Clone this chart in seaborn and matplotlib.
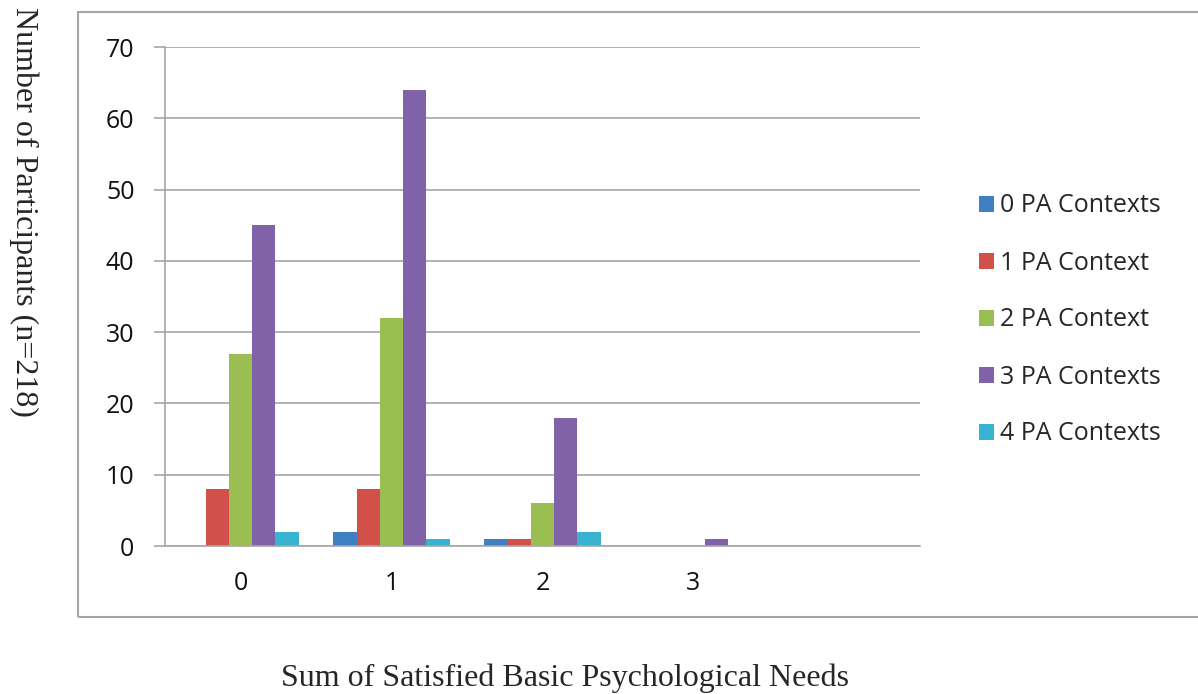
import matplotlib
matplotlib.use("Agg")
import matplotlib.pyplot as plt
from matplotlib.patches import Rectangle
import seaborn as sns
import pandas as pd

# Participant counts by number of satisfied needs and PA contexts
needs = ["0", "1", "2", "3"]
contexts = ["0 PA Contexts", "1 PA Context", "2 PA Context", "3 PA Contexts", "4 PA Contexts"]
ctx0 = [0, 2, 1, 0]
ctx1 = [8, 8, 1, 0]
ctx2 = [27, 32, 6, 0]
ctx3 = [45, 64, 18, 1]
ctx4 = [2, 1, 2, 0]
colors = ["#3F7FC6", "#D2504A", "#9BBE52", "#8062A8", "#38B3D2"]

series = [ctx0, ctx1, ctx2, ctx3, ctx4]
rows = []
for ctx, vals in zip(contexts, series):
    for n, v in zip(needs, vals):
        rows.append({"needs": n, "context": ctx, "count": v})
df = pd.DataFrame(rows)

sns.set_style("white")
plt.rcParams["font.family"] = ["Open Sans", "DejaVu Sans"]

fig = plt.figure(figsize=(11.98, 6.94), dpi=100)
ax = fig.add_axes([165 / 1198, 1 - 546 / 694, (920 - 165) / 1198, (546 - 47) / 694])

sns.barplot(data=df, x="needs", y="count", hue="context", order=needs,
            hue_order=contexts, palette=colors, saturation=1, width=0.77,
            linewidth=0, ax=ax, legend=True)

grey = "#A6A6A6"
ax.set_xlim(-0.5, 4.5)
ax.set_ylim(0, 70)
ax.set_yticks(range(0, 71, 10))
ax.yaxis.grid(True, color=grey, linewidth=1.2)
ax.set_axisbelow(True)
for side in ["top", "right"]:
    ax.spines[side].set_visible(False)
for side in ["left", "bottom"]:
    ax.spines[side].set_color(grey)
    ax.spines[side].set_linewidth(1.2)

ax.set_xticks(range(len(needs)), needs)
ax.set_xticks([i - 0.5 for i in range(6)], minor=True)
ax.tick_params(axis="x", which="major", length=0, pad=18, labelsize=18, labelcolor="#111111")
ax.tick_params(axis="x", which="minor", length=6, width=1.2, color=grey, direction="out")
ax.tick_params(axis="y", length=8, width=1.2, color=grey, pad=14, labelsize=18,
               labelcolor="#111111", left=True)
ax.set_xlabel("")
ax.set_ylabel("")

handles, labels = ax.get_legend_handles_labels()
ax.legend(handles, labels, loc="center left", bbox_to_anchor=(979 / 1198, 1 - 320 / 694),
          bbox_transform=fig.transFigure, frameon=False, fontsize=18,
          handlelength=0.6, handleheight=0.6, handletextpad=0.25, labelspacing=1.28,
          borderaxespad=0, borderpad=0)

# Outer chart frame
fig.patches.append(Rectangle((78 / 1198, 1 - 617 / 694), 1.2, (617 - 12) / 694,
                             transform=fig.transFigure, fill=False,
                             edgecolor=grey, linewidth=1.5))

fig.text(24 / 1198, 1 - 212 / 694, "Number of Participants (n=218)", rotation=270,
         ha="center", va="center", fontsize=23, family="Liberation Serif")
fig.text(565 / 1198, 1 - 678 / 694, "Sum of Satisfied Basic Psychological Needs",
         ha="center", va="center", fontsize=23, family="Liberation Serif")

fig.savefig("out.png", dpi=100)
